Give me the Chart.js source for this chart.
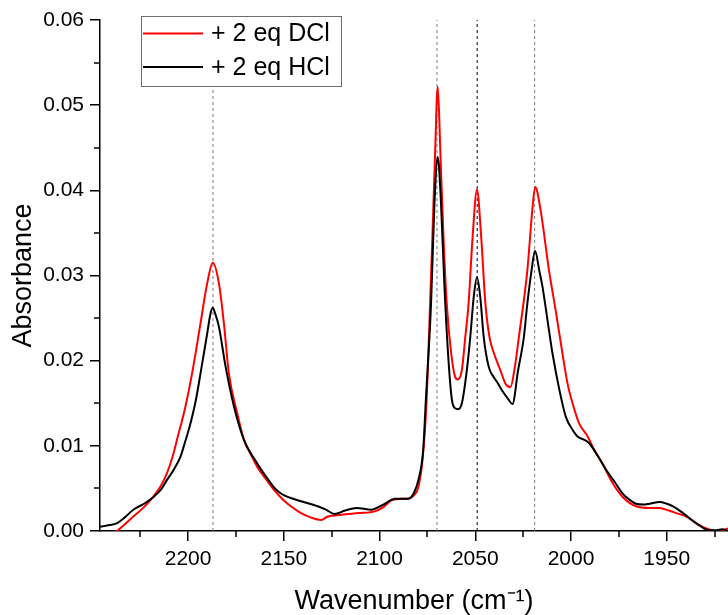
<!DOCTYPE html>
<html>
<head>
<meta charset="utf-8">
<script src="https://cdn.jsdelivr.net/npm/chart.js@4/dist/chart.umd.min.js"></script>
<style>
html,body{margin:0;padding:0;background:#fff;}
#wrap{width:728px;height:615px;position:relative;}
</style>
</head>
<body>
<div id="wrap"><canvas id="c" width="728" height="615"></canvas></div>
<script>
// ---- data ----
const dclWavenumber = [2246,2240,2236.6,2232,2228.6,2224,2219.8,2214.5,2211,2208,2205.8,2201.4,2197.9,2193.5,2190,2187.1,2183.9,2181.3,2178.7,2174.3,2170.8,2167,2163.8,2159,2155,2150.5,2146.3,2141,2136,2130.5,2127,2120,2111,2102.5,2098,2093.8,2088,2085,2082,2079.7,2077.5,2075.4,2073.6,2072.4,2071,2069.6,2068.2,2066.6,2064.9,2062.6,2060.5,2059.1,2057,2055.2,2053.5,2051.4,2049.1,2046.9,2044.7,2042.6,2040.3,2036.9,2034.2,2031.6,2029.5,2027.2,2022.8,2020.2,2018.7,2015.9,2011.5,2008,2004.5,2001.8,1999.2,1995.7,1991.3,1987.8,1983.5,1978.2,1973,1966,1959,1953.7,1949,1945,1939.8,1934.5,1929.3,1924,1920.5,1918];
const dclAbsorbance = [-0.0015,-0.0005,0.0001,0.0010,0.0017,0.0026,0.0036,0.0052,0.0068,0.0088,0.0107,0.0146,0.0185,0.0244,0.0291,0.0315,0.0291,0.0244,0.0185,0.0138,0.0107,0.0089,0.0075,0.0060,0.0048,0.0037,0.0029,0.0021,0.0016,0.0013,0.0017,0.0019,0.0021,0.0023,0.0028,0.0036,0.0038,0.0038,0.0042,0.0052,0.0085,0.0154,0.0267,0.0345,0.0443,0.0522,0.0443,0.0345,0.0267,0.0209,0.0181,0.0178,0.0189,0.0228,0.0267,0.0345,0.0401,0.0345,0.0267,0.0228,0.0209,0.0189,0.0173,0.0169,0.0190,0.0228,0.0306,0.0377,0.0404,0.0377,0.0306,0.0259,0.0209,0.0173,0.0150,0.0126,0.0111,0.0095,0.0079,0.0056,0.0040,0.0029,0.0027,0.0027,0.0024,0.0021,0.0017,0.0009,0.0003,0.0000,0.0001,0.0003];
const hclWavenumber = [2246,2241,2237.3,2233,2228.6,2223,2218,2214,2211,2207.5,2204,2201.5,2198.8,2196,2193.5,2190,2188.3,2187.1,2185.8,2183.9,2180.4,2176,2170.8,2163.8,2159,2155,2151.5,2148,2141,2132.3,2128,2123.5,2118,2112,2104.3,2098,2092,2085,2082,2079.7,2077.2,2075.9,2073.1,2071.3,2069.6,2067.9,2066.1,2064,2062.2,2060.5,2059,2057,2054.4,2052.6,2050.8,2049.1,2047.4,2045.6,2043,2040.5,2038.6,2036,2032.5,2030.6,2027.6,2024.6,2022.8,2020.6,2018.8,2016.5,2014.9,2012.3,2009.7,2006,2002.7,1999.2,1996.6,1993,1990.5,1986,1981.7,1977,1973,1969,1966,1962,1959,1953.7,1950,1946.7,1941.5,1934.5,1928,1924,1921,1918];
const hclAbsorbance = [0.0005,0.0007,0.0009,0.0016,0.0025,0.0032,0.0040,0.0049,0.0060,0.0072,0.0087,0.0105,0.0126,0.0153,0.0185,0.0232,0.0255,0.0262,0.0255,0.0240,0.0193,0.0146,0.0107,0.0079,0.0063,0.0051,0.0044,0.0040,0.0035,0.0029,0.0025,0.0020,0.0024,0.0027,0.0025,0.0031,0.0038,0.0038,0.0045,0.0060,0.0095,0.0150,0.0267,0.0385,0.0439,0.0385,0.0287,0.0201,0.0154,0.0144,0.0143,0.0150,0.0189,0.0228,0.0275,0.0298,0.0275,0.0228,0.0193,0.0181,0.0175,0.0165,0.0154,0.0149,0.0189,0.0228,0.0267,0.0306,0.0329,0.0305,0.0287,0.0248,0.0209,0.0165,0.0134,0.0119,0.0111,0.0107,0.0103,0.0088,0.0072,0.0057,0.0044,0.0036,0.0032,0.0031,0.0032,0.0034,0.0032,0.0029,0.0021,0.0009,0.0001,0.0001,0.0002,0.0000];
const peakMarkers = [2187, 2070, 2049, 2019];
const seriesLabels = ['+ 2 eq DCl', '+ 2 eq HCl'];
const xTickValues = [2200, 2150, 2100, 2050, 2000, 1950];
const xMinorTickValues = [2225, 2175, 2125, 2075, 2025, 1975, 1925];
const yTickValues = [0, 0.01, 0.02, 0.03, 0.04, 0.05, 0.06];
const yMinorTickValues = [0.005, 0.015, 0.025, 0.035, 0.045, 0.055];
const xRange = [1918, 2246];
const yRange = [0, 0.06];

// ---- build ----
const FONT = "'Liberation Sans', Arial, sans-serif";
const toPts = (xs, ys) => xs.map((x, i) => ({x: x, y: ys[i]}));

const datasets = [];
peakMarkers.forEach((p, i) => {
  datasets.push({
    label: 'marker' + i,
    data: [{x: p, y: yRange[0]}, {x: p, y: yRange[1]}],
    borderColor: i === 2 ? '#000000' : '#7a7a7a',
    borderWidth: 1,
    borderDash: [3, 3],
    pointRadius: 0,
    order: 3
  });
});
datasets.push({
  label: seriesLabels[0],
  data: toPts(dclWavenumber, dclAbsorbance),
  borderColor: '#ff0000',
  borderWidth: 2,
  pointRadius: 0,
  cubicInterpolationMode: 'monotone',
  order: 2
});
datasets.push({
  label: seriesLabels[1],
  data: toPts(hclWavenumber, hclAbsorbance),
  borderColor: '#000000',
  borderWidth: 2,
  pointRadius: 0,
  cubicInterpolationMode: 'monotone',
  order: 1
});

const minorTicks = {
  id: 'minorTicks',
  afterDraw(chart) {
    const ctx = chart.ctx, xs = chart.scales.x, ys = chart.scales.y;
    const a = chart.chartArea;
    ctx.save();
    ctx.strokeStyle = '#000';
    ctx.lineWidth = 1.5;
    ctx.beginPath();
    xMinorTickValues.forEach(v => {
      const px = Math.round(xs.getPixelForValue(v));
      if (px < a.left || px > a.right) return;
      ctx.moveTo(px, a.bottom); ctx.lineTo(px, a.bottom + 6);
    });
    yMinorTickValues.forEach(v => {
      const py = Math.round(ys.getPixelForValue(v));
      ctx.moveTo(a.left, py); ctx.lineTo(a.left - 6, py);
    });
    ctx.stroke();
    ctx.restore();
  }
};

const boxLegend = {
  id: 'boxLegend',
  afterDraw(chart) {
    const ctx = chart.ctx;
    const x0 = 141, y0 = 16, w = 200, h = 70;
    ctx.save();
    ctx.fillStyle = '#fff';
    ctx.fillRect(x0, y0, w, h);
    ctx.strokeStyle = '#6e6e6e';
    ctx.lineWidth = 1;
    ctx.strokeRect(x0 + 0.5, y0 + 0.5, w, h);
    const colors = ['#ff0000', '#000000'];
    const rows = [33.5, 67];
    ctx.font = '25px ' + FONT;
    ctx.textBaseline = 'middle';
    ctx.textAlign = 'left';
    seriesLabels.forEach((lab, i) => {
      ctx.strokeStyle = colors[i];
      ctx.lineWidth = 2;
      ctx.beginPath();
      ctx.moveTo(143, rows[i]); ctx.lineTo(203, rows[i]);
      ctx.stroke();
      ctx.fillStyle = '#000';
      ctx.fillText(lab, 211, rows[i] + 1);
    });
    ctx.restore();
  }
};

new Chart(document.getElementById('c'), {
  type: 'line',
  data: {datasets: datasets},
  options: {
    responsive: false,
    animation: false,
    layout: {padding: {top: 20, right: 0, left: 0, bottom: 0}},
    plugins: {legend: {display: false}, tooltip: {enabled: false}},
    elements: {line: {tension: 0}},
    scales: {
      x: {
        type: 'linear',
        reverse: true,
        min: xRange[0],
        max: xRange[1],
        afterBuildTicks: s => { s.ticks = xTickValues.map(v => ({value: v})); },
        afterFit: s => { s.height = 84; },
        ticks: {
          callback: v => String(v),
          color: '#000',
          font: {family: FONT, size: 21},
          padding: 6,
          maxRotation: 0,
          autoSkip: false
        },
        grid: {display: true, drawOnChartArea: false, drawTicks: true, tickLength: 10, color: '#000', lineWidth: 1.5},
        border: {display: true, color: '#000', width: 1.5},
        title: {display: true, text: 'Wavenumber (cm⁻¹)', color: '#000', font: {family: FONT, size: 27, lineHeight: 1}, padding: {top: 0, bottom: 0}}
      },
      y: {
        type: 'linear',
        min: yRange[0],
        max: yRange[1],
        afterBuildTicks: s => { s.ticks = yTickValues.map(v => ({value: v})); },
        afterFit: s => { s.width = 100; },
        ticks: {
          callback: v => Number(v).toFixed(2),
          color: '#000',
          font: {family: FONT, size: 21},
          padding: 6
        },
        grid: {display: true, drawOnChartArea: false, drawTicks: true, tickLength: 10, color: '#000', lineWidth: 1.5},
        border: {display: true, color: '#000', width: 1.5},
        title: {display: true, text: 'Absorbance', color: '#000', font: {family: FONT, size: 27, lineHeight: 1}, padding: {top: 10, bottom: 0}}
      }
    }
  },
  plugins: [minorTicks, boxLegend]
});
</script>
</body>
</html>
